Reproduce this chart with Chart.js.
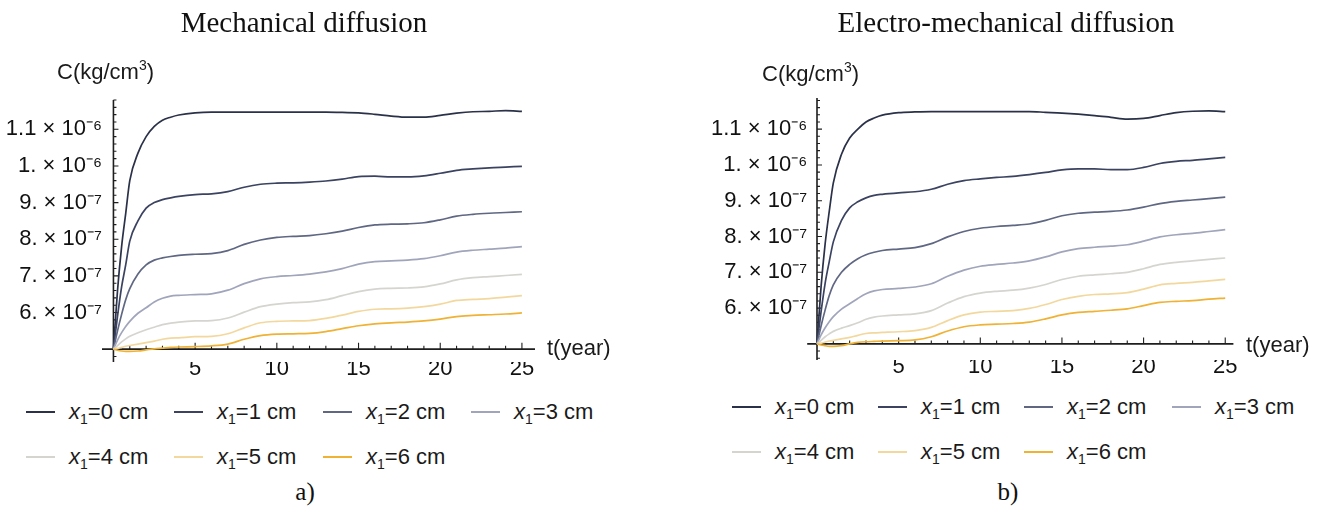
<!DOCTYPE html>
<html>
<head>
<meta charset="utf-8">
<script src="https://cdn.jsdelivr.net/npm/chart.js@4"></script>
<style>
  html, body { margin: 0; padding: 0; background: #fff; }
  body { width: 1324px; height: 513px; position: relative; overflow: hidden; }
  canvas { position: absolute; top: 0; }
  .serif { position: absolute; font-family: "Liberation Serif", "Times New Roman", serif; line-height: 1; color: #111; white-space: nowrap; text-align: center; }
  .sans { position: absolute; font-family: "Liberation Sans", Arial, sans-serif; font-size: 22px; line-height: 1; color: #1a1a1a; white-space: nowrap; }
  .sans sup { font-size: 14px; position: relative; top: -3px; vertical-align: top; }
  .sans sub { font-size: 14px; position: relative; top: 5px; vertical-align: baseline; line-height: 0; }
  .swatch { position: absolute; width: 29px; height: 1.6px; }
</style>
</head>
<body>
<canvas id="mech" width="662" height="390" style="left:0"></canvas>
<canvas id="electro" width="662" height="390" style="left:662px"></canvas>

<div class="serif" style="left:104px;top:8px;width:400px;font-size:29px">Mechanical diffusion</div>
<div class="serif" style="left:806px;top:8px;width:400px;font-size:29px">Electro-mechanical diffusion</div>

<div class="sans" style="left:57px;top:61px">C(kg/cm<sup>3</sup>)</div>
<div class="sans" style="left:762px;top:63px">C(kg/cm<sup>3</sup>)</div>
<div class="sans" style="left:547px;top:337px">t(year)</div>
<div class="sans" style="left:1246px;top:334px">t(year)</div>

<div id="legend-mech"></div>
<div id="legend-electro"></div>

<div class="serif" style="left:255px;top:479px;width:100px;font-size:25px">a)</div>
<div class="serif" style="left:958px;top:479px;width:100px;font-size:25px">b)</div>

<script>
// Time samples in years
const TIMES = [0, 0.25, 0.5, 0.75, 1, 1.5, 2, 2.5, 3, 3.5, 4,
  5, 6, 7, 8, 9, 10, 11, 12, 13, 14, 15, 16, 17, 18, 19, 20, 21, 22, 23, 24, 25];

// Concentration C, in units of 10^-7 kg/cm^3, mechanical diffusion, depth x1 = 0..6 cm
const MECH_X0 = [5.0, 6.6, 7.8, 8.7, 9.6, 10.35, 10.8, 11.08, 11.25, 11.33, 11.39,
  11.45, 11.47, 11.47, 11.47, 11.47, 11.47, 11.47, 11.47, 11.47, 11.46, 11.45, 11.41, 11.36, 11.33, 11.33, 11.38, 11.44, 11.48, 11.49, 11.51, 11.49];
const MECH_X1 = [5.0, 5.9, 6.7, 7.3, 7.95, 8.5, 8.85, 9.0, 9.08, 9.13, 9.17,
  9.22, 9.24, 9.30, 9.42, 9.50, 9.53, 9.54, 9.56, 9.59, 9.64, 9.71, 9.72, 9.70, 9.70, 9.73, 9.80, 9.88, 9.92, 9.95, 9.97, 9.99];
const MECH_X2 = [5.0, 5.5, 5.95, 6.35, 6.65, 7.05, 7.3, 7.43, 7.49, 7.53, 7.56,
  7.59, 7.61, 7.69, 7.86, 7.98, 8.05, 8.08, 8.10, 8.15, 8.22, 8.32, 8.39, 8.41, 8.42, 8.45, 8.53, 8.63, 8.68, 8.71, 8.73, 8.75];
const MECH_X3 = [5.0, 5.25, 5.45, 5.62, 5.76, 5.98, 6.13, 6.29, 6.39, 6.45, 6.47,
  6.49, 6.51, 6.61, 6.79, 6.92, 6.98, 7.01, 7.05, 7.11, 7.20, 7.32, 7.39, 7.41, 7.43, 7.47, 7.55, 7.65, 7.70, 7.73, 7.76, 7.80];
const MECH_X4 = [5.0, 5.1, 5.2, 5.28, 5.35, 5.45, 5.53, 5.6, 5.67, 5.71, 5.74,
  5.77, 5.78, 5.85, 6.01, 6.16, 6.23, 6.27, 6.29, 6.35, 6.46, 6.57, 6.64, 6.66, 6.67, 6.70, 6.78, 6.89, 6.95, 6.98, 7.01, 7.04];
const MECH_X5 = [5.0, 5.02, 5.05, 5.08, 5.1, 5.14, 5.18, 5.22, 5.27, 5.3, 5.31,
  5.34, 5.35, 5.42, 5.58, 5.72, 5.76, 5.77, 5.78, 5.84, 5.93, 6.03, 6.09, 6.10, 6.12, 6.16, 6.23, 6.33, 6.36, 6.38, 6.42, 6.46];
const MECH_X6 = [5.0, 4.97, 4.95, 4.94, 4.94, 4.95, 4.98, 5.01, 5.03, 5.05, 5.06,
  5.07, 5.09, 5.14, 5.27, 5.37, 5.41, 5.42, 5.43, 5.48, 5.56, 5.64, 5.69, 5.72, 5.74, 5.77, 5.82, 5.89, 5.92, 5.94, 5.96, 5.99];

// Concentration C, in units of 10^-7 kg/cm^3, electro-mechanical diffusion
const ELEC_X0 = [5.0, 6.6, 7.8, 8.7, 9.5, 10.3, 10.75, 11.0, 11.2, 11.31, 11.39,
  11.46, 11.48, 11.49, 11.49, 11.49, 11.49, 11.49, 11.49, 11.49, 11.47, 11.45, 11.42, 11.38, 11.33, 11.28, 11.30, 11.38, 11.46, 11.50, 11.51, 11.49];
const ELEC_X1 = [5.0, 5.9, 6.7, 7.3, 7.85, 8.45, 8.8, 8.97, 9.08, 9.15, 9.18,
  9.22, 9.25, 9.32, 9.46, 9.56, 9.61, 9.65, 9.68, 9.73, 9.79, 9.86, 9.89, 9.89, 9.87, 9.87, 9.93, 10.04, 10.10, 10.13, 10.17, 10.21];
const ELEC_X2 = [5.0, 5.5, 5.95, 6.35, 6.65, 7.0, 7.22, 7.38, 7.49, 7.56, 7.61,
  7.65, 7.69, 7.80, 7.99, 8.14, 8.23, 8.28, 8.31, 8.35, 8.45, 8.58, 8.65, 8.68, 8.70, 8.74, 8.82, 8.92, 8.98, 9.02, 9.06, 9.10];
const ELEC_X3 = [5.0, 5.25, 5.45, 5.62, 5.76, 5.97, 6.12, 6.27, 6.4, 6.48, 6.52,
  6.55, 6.59, 6.68, 6.89, 7.06, 7.17, 7.22, 7.26, 7.32, 7.43, 7.57, 7.66, 7.70, 7.73, 7.77, 7.87, 7.99, 8.05, 8.09, 8.14, 8.19];
const ELEC_X4 = [5.0, 5.1, 5.2, 5.28, 5.35, 5.44, 5.51, 5.59, 5.69, 5.75, 5.78,
  5.81, 5.84, 5.93, 6.14, 6.32, 6.42, 6.47, 6.50, 6.56, 6.66, 6.80, 6.89, 6.93, 6.96, 7.00, 7.10, 7.22, 7.28, 7.32, 7.36, 7.40];
const ELEC_X5 = [5.0, 5.02, 5.05, 5.08, 5.1, 5.14, 5.18, 5.24, 5.29, 5.31, 5.32,
  5.34, 5.37, 5.46, 5.65, 5.81, 5.89, 5.91, 5.93, 5.99, 6.10, 6.24, 6.33, 6.38, 6.40, 6.43, 6.53, 6.65, 6.69, 6.72, 6.76, 6.80];
const ELEC_X6 = [5.0, 4.97, 4.95, 4.93, 4.93, 4.95, 5.0, 5.04, 5.06, 5.07, 5.08,
  5.09, 5.11, 5.20, 5.36, 5.48, 5.53, 5.55, 5.57, 5.61, 5.70, 5.81, 5.88, 5.91, 5.94, 5.98, 6.07, 6.16, 6.19, 6.21, 6.25, 6.28];

const DEPTHS = [0, 1, 2, 3, 4, 5, 6];
const COLORS = ['#2a3148', '#3b4361', '#5f6783', '#a0a5bb', '#d5d4cf', '#f3d89e', '#efb235'];

const X_TICKS = [5, 10, 15, 20, 25];
const Y_TICKS = [6, 7, 8, 9, 10, 11];
const Y_TICK_LABELS = ['6. \u00d7 10\u207b\u2077', '7. \u00d7 10\u207b\u2077', '8. \u00d7 10\u207b\u2077',
  '9. \u00d7 10\u207b\u2077', '1. \u00d7 10\u207b\u2076', '1.1 \u00d7 10\u207b\u2076'];
const AXIS_ORIGIN_Y = 5; // the time axis crosses the C axis at 5 x 10^-7

const TICK_FONT = { family: "'Liberation Sans', Arial, sans-serif", size: 22 };

// Axes through the origin with inward major/minor ticks
const crossAxes = {
  id: 'crossAxes',
  beforeDatasetsDraw(chart) {
    const { ctx, chartArea: a, scales: { x, y } } = chart;
    const x0 = x.getPixelForValue(0);
    const y0 = y.getPixelForValue(AXIS_ORIGIN_Y);
    ctx.save();
    ctx.strokeStyle = '#1e1e1e';
    ctx.lineWidth = 1.6;
    ctx.beginPath();
    ctx.moveTo(a.left, y0); ctx.lineTo(a.right, y0);
    ctx.moveTo(x0, a.top); ctx.lineTo(x0, a.bottom);
    ctx.stroke();
    ctx.lineWidth = 1.1;
    ctx.beginPath();
    for (let t = 1; t <= Math.floor(x.max); t++) {
      const px = x.getPixelForValue(t);
      const len = t % 5 === 0 ? 6.5 : 3.5;
      ctx.moveTo(px, y0); ctx.lineTo(px, y0 - len);
    }
    for (let k = Math.ceil(y.min * 5); k <= Math.floor(y.max * 5); k++) {
      if (k === AXIS_ORIGIN_Y * 5) continue;
      const py = y.getPixelForValue(k / 5);
      const len = (k % 5 === 0) ? 5 : 3;
      ctx.moveTo(x0, py); ctx.lineTo(x0 + len, py);
    }
    ctx.stroke();
    ctx.restore();
  }
};

function buildChart(id, series, box) {
  return new Chart(document.getElementById(id), {
    type: 'line',
    data: {
      datasets: series.map((vals, i) => ({
        label: 'x1=' + DEPTHS[i] + ' cm',
        data: TIMES.map((t, k) => ({ x: t, y: vals[k] })),
        borderColor: COLORS[i],
        borderWidth: 1.7,
        pointRadius: 0,
        cubicInterpolationMode: 'monotone',
        fill: false
      })).reverse()
    },
    options: {
      responsive: false,
      animation: false,
      devicePixelRatio: 1,
      layout: { padding: { left: 0, top: box.top, right: box.right, bottom: 0 } },
      plugins: { legend: { display: false }, tooltip: { enabled: false } },
      scales: {
        x: {
          type: 'linear', min: box.xMin, max: box.xMax,
          grid: { display: false, drawTicks: false },
          border: { display: false },
          afterBuildTicks: s => { s.ticks = X_TICKS.map(v => ({ value: v })); },
          afterFit: s => { s.height = box.xHeight; },
          ticks: { padding: box.xPad, font: TICK_FONT, color: '#111', autoSkip: false, maxRotation: 0,
                   callback: v => String(v) }
        },
        y: {
          type: 'linear', min: box.yMin, max: box.yMax,
          grid: { display: false, drawTicks: false },
          border: { display: false },
          afterBuildTicks: s => { s.ticks = Y_TICKS.map(v => ({ value: v })); },
          afterFit: s => { s.width = box.yWidth; },
          ticks: { padding: 0, font: TICK_FONT, color: '#111', autoSkip: false,
                   callback: (v, i) => Y_TICK_LABELS[i] }
        }
      }
    },
    plugins: [crossAxes]
  });
}

buildChart('mech', [MECH_X0, MECH_X1, MECH_X2, MECH_X3, MECH_X4, MECH_X5, MECH_X6],
  { top: 100, right: 127, xHeight: 28, xPad: -6, yWidth: 102, xMin: -0.7, xMax: 25.8, yMin: 4.65, yMax: 11.8 });
buildChart('electro', [ELEC_X0, ELEC_X1, ELEC_X2, ELEC_X3, ELEC_X4, ELEC_X5, ELEC_X6],
  { top: 98, right: 90.6, xHeight: 30, xPad: -6, yWidth: 145.2, xMin: -0.6, xMax: 25.5, yMin: 4.55, yMax: 11.87 });

// Legends: four entries in the first row, three in the second
function buildLegend(id, cols, rows) {
  const host = document.getElementById(id);
  DEPTHS.forEach((d, i) => {
    const left = cols[i % 4];
    const cy = rows[Math.floor(i / 4)];
    const sw = document.createElement('div');
    sw.className = 'swatch';
    sw.style.left = left + 'px';
    sw.style.top = (cy - 0.8) + 'px';
    sw.style.background = COLORS[i];
    host.appendChild(sw);
    const tx = document.createElement('div');
    tx.className = 'sans';
    tx.style.left = (left + 43) + 'px';
    tx.style.top = (cy - 11) + 'px';
    tx.innerHTML = '<i>x</i><sub>1</sub>=' + d + ' cm';
    host.appendChild(tx);
  });
}
buildLegend('legend-mech', [26, 174, 323, 471], [412, 457]);
buildLegend('legend-electro', [732, 878, 1024, 1172], [407, 452]);
</script>
</body>
</html>
